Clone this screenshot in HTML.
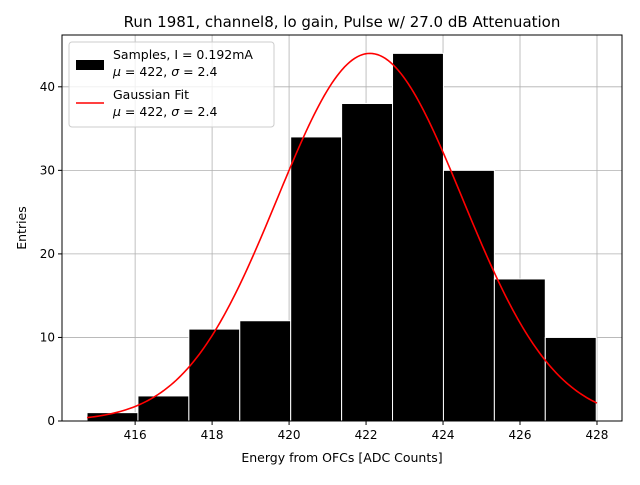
<!DOCTYPE html>
<html><head><meta charset="utf-8"><style>
body{margin:0;background:#fff;font-family:"Liberation Sans","DejaVu Sans",sans-serif;}
svg text{font-family:"DejaVu Sans","Liberation Sans",sans-serif;}
</style></head><body>
<svg id="chart" width="640" height="480" xmlns="http://www.w3.org/2000/svg">
<rect width="640" height="480" fill="#fff"/>
<text x="342" y="27" font-size="15" text-anchor="middle">Run 1981, channel8, lo gain, Pulse w/ 27.0 dB Attenuation</text>
<g id="grid"></g>
<g id="bars"></g>
<path id="fit" fill="none" stroke="red" stroke-width="1.6"/>
<rect x="62" y="35" width="560" height="386" fill="none" stroke="#000" stroke-width="1"/>
<g id="ticks"></g>
<text x="342" y="462" font-size="12.5" text-anchor="middle">Energy from OFCs [ADC Counts]</text>
<text x="26" y="228" font-size="12.5" text-anchor="middle" transform="rotate(-90 26 228)">Entries</text>
<g>
<rect x="69" y="42" width="205" height="85" rx="3" fill="#fff" fill-opacity="0.8" stroke="#ccc"/>
<rect x="76" y="60" width="28" height="10" fill="#000"/>
<text x="113" y="59" font-size="12.5">Samples, I = 0.192mA</text>
<text x="113" y="76" font-size="12.5"><tspan font-style="italic">μ</tspan> = 422, <tspan font-style="italic">σ</tspan> = 2.4</text>
<line x1="76" y1="103" x2="104" y2="103" stroke="red" stroke-width="1.6"/>
<text x="113" y="99" font-size="12.5">Gaussian Fit</text>
<text x="113" y="116" font-size="12.5"><tspan font-style="italic">μ</tspan> = 422, <tspan font-style="italic">σ</tspan> = 2.4</text>
</g>
</svg>
<script>
const counts=[1,3,11,12,34,38,44,30,17,10];
const binStart=414.75, binWidth=1.323;
const xTicks=[416,418,420,422,424,426,428];
const yTicks=[0,10,20,30,40];
const fitAmp=44, fitMu=422.1, fitSigma=2.4, fitMin=414.75, fitMax=428.0;
const NS="http://www.w3.org/2000/svg";
const xs=v=>62+(v-414.1)*(560/14.55);
const ys=v=>421-v*(386/46.2);
function mk(tag,attrs,parent){const e=document.createElementNS(NS,tag);for(const k in attrs)e.setAttribute(k,attrs[k]);document.getElementById(parent).appendChild(e);return e;}
xTicks.forEach(t=>{
 const g=mk('line',{x1:xs(t),x2:xs(t),y1:35,y2:421,stroke:'#b0b0b0','stroke-width':0.8},'grid');
 
 
 const k=mk('line',{x1:xs(t),x2:xs(t),y1:421,y2:425,stroke:'#000'},'ticks');
 
 
 const l=mk('text',{x:xs(t),y:439,'font-size':12,'text-anchor':'middle'},'ticks');
 l.textContent=t;
 
 
});
yTicks.forEach(t=>{
 const g=mk('line',{x1:62,x2:622,y1:ys(t),y2:ys(t),stroke:'#b0b0b0','stroke-width':0.8},'grid');
 
 
 const k=mk('line',{x1:58,x2:62,y1:ys(t),y2:ys(t),stroke:'#000'},'ticks');
 
 
 const l=mk('text',{x:55,y:ys(t)+4,'font-size':12,'text-anchor':'end'},'ticks');
 l.textContent=t;
 
 
});
counts.forEach((c,i)=>{
 const x0=xs(binStart+i*binWidth),x1=xs(binStart+(i+1)*binWidth);
 const r=mk('rect',{x:x0,y:ys(c),width:x1-x0,height:ys(0)-ys(c),fill:'#000',stroke:'#fff','stroke-width':1},'bars');
 
 
});
let d='';
for(let i=0;i<=200;i++){const x=fitMin+(fitMax-fitMin)*i/200;const y=fitAmp*Math.exp(-((x-fitMu)**2)/(2*fitSigma*fitSigma));d+=(i?'L':'M')+xs(x).toFixed(2)+','+ys(y).toFixed(2);}
document.getElementById('fit').setAttribute('d',d);
</script>
</body></html>
